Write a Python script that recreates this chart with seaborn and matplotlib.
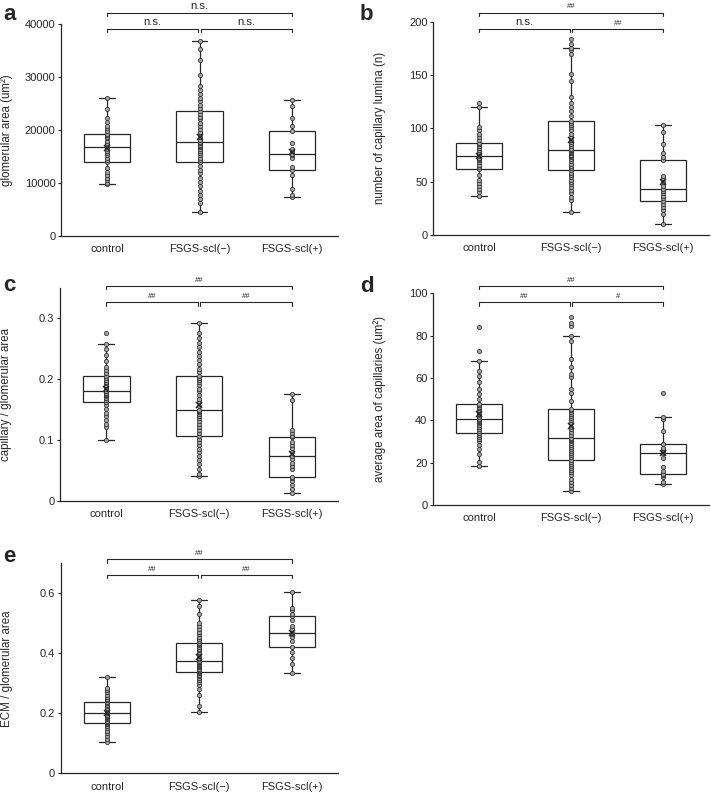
import numpy as np
import pandas as pd
import matplotlib
matplotlib.use("Agg")
import matplotlib.pyplot as plt
import seaborn as sns

# group names
groups = ["control", "FSGS-scl(\u2212)", "FSGS-scl(+)"]

# a: glomerular area (um2)
a_control = [9750, 10000, 10500, 11000, 11500, 12000, 12800, 13900, 14300, 14800,
             15200, 15600, 16000, 16400, 16800, 17200, 17600, 18000, 18400, 18700,
             19000, 19300, 19800, 20300, 20800, 21500, 22300, 24000, 26000]
a_scl_neg = [4500, 6200, 7000, 7700, 8500, 9500, 10200, 11000, 11800, 12500,
             13200, 13900, 14400, 14800, 15200, 15600, 16000, 16400, 16700, 17000,
             17200, 17500, 17700, 18200, 18700, 19200, 19700, 20200, 20800, 21400,
             22000, 22500, 23000, 23600, 24200, 24800, 25400, 26000, 26800, 27500,
             28300, 30300, 33200, 35300, 36800]
a_scl_pos = [7400, 7700, 8800, 11500, 12500, 13000, 14800, 15200, 15500, 16000,
             16500, 17500, 19800, 20800, 22300, 24600, 25700]

# b: number of capillary lumina (n)
b_control = [37, 40, 43, 46, 49, 52, 56, 62, 64, 66, 68, 70, 71, 72, 74, 76, 78,
             80, 82, 83, 85, 86, 89, 92, 95, 98, 101, 120, 124]
b_scl_neg = [22, 33, 36, 39, 42, 45, 48, 50, 52, 54, 56, 58, 60.6, 63, 65, 67, 69,
             71, 73, 74, 75, 77, 78, 79, 79.5, 81, 83, 85, 87, 89, 92, 95, 98, 101,
             103, 105, 107, 112, 116, 120, 124, 129, 144, 151, 170, 173, 175.6, 179, 184]
b_scl_pos = [10, 20, 23, 26, 29, 32.2, 35, 37, 39, 41, 42.8, 46, 50, 53, 55, 70,
             73, 77, 85, 97, 103]

# c: capillary / glomerular area
c_control = [0.0995, 0.121, 0.127, 0.133, 0.139, 0.145, 0.151, 0.157, 0.1626, 0.166,
             0.169, 0.172, 0.174, 0.176, 0.178, 0.18, 0.181, 0.184, 0.187, 0.19,
             0.193, 0.196, 0.199, 0.202, 0.2055, 0.21, 0.215, 0.22, 0.23, 0.24,
             0.25, 0.257, 0.276]
c_scl_neg = [0.0407, 0.045, 0.052, 0.06, 0.068, 0.074, 0.08, 0.086, 0.092, 0.097,
             0.102, 0.1066, 0.111, 0.116, 0.121, 0.126, 0.131, 0.136, 0.14, 0.143,
             0.146, 0.148, 0.15, 0.156, 0.162, 0.168, 0.174, 0.18, 0.184, 0.19,
             0.195, 0.199, 0.202, 0.2055, 0.211, 0.217, 0.224, 0.231, 0.238, 0.245,
             0.252, 0.259, 0.267, 0.276, 0.292]
c_scl_pos = [0.0137, 0.02, 0.026, 0.032, 0.037, 0.0396, 0.053, 0.058, 0.063, 0.069,
             0.0736, 0.08, 0.087, 0.092, 0.097, 0.105, 0.107, 0.112, 0.117, 0.166, 0.175]

# d: average area of capillaries (um2)
d_control = [18.3, 20.5, 24, 26.5, 28.5, 30, 31, 32, 33, 34, 35, 36, 37, 37.8, 38.5,
             39.2, 39.8, 40.2, 40.6, 41.5, 42.5, 43.2, 44, 45, 45.8, 46.5, 47.2, 47.7,
             50, 52.5, 55, 58, 61, 63.5, 67.9, 72.6, 84]
d_scl_neg = [6.5, 8, 9.5, 11, 12.5, 14, 15.5, 16.5, 17.5, 18.5, 19.5, 20.5, 21.3,
             22.5, 23.5, 24.5, 25.5, 26.5, 27.5, 28.5, 29.5, 30.2, 30.8, 31.3, 31.8,
             33, 34.5, 36, 37, 38.5, 40, 41, 42, 43, 44, 44.8, 45.4,
             49, 53, 55, 60.5, 62, 65, 69, 77.5, 80, 84.5, 86, 89]
d_scl_pos = [9.9, 11, 13, 14, 14.6, 16, 18, 22, 24.7, 25.5, 26, 27, 28.8, 35, 40.5,
             41.7, 52.8]

# e: ECM / glomerular area
e_control = [0.1056, 0.115, 0.124, 0.133, 0.142, 0.15, 0.157, 0.163, 0.168, 0.172,
             0.176, 0.18, 0.184, 0.188, 0.192, 0.196, 0.201, 0.205, 0.209, 0.213,
             0.218, 0.223, 0.228, 0.233, 0.238, 0.243, 0.249, 0.255, 0.262, 0.27,
             0.278, 0.285, 0.321]
e_scl_neg = [0.2056, 0.225, 0.26, 0.28, 0.295, 0.305, 0.312, 0.318, 0.324, 0.329,
             0.333, 0.337, 0.341, 0.345, 0.349, 0.353, 0.357, 0.361, 0.364, 0.367,
             0.37, 0.372, 0.374, 0.38, 0.386, 0.392, 0.398, 0.404, 0.41, 0.416,
             0.422, 0.428, 0.432, 0.4356, 0.44, 0.448, 0.456, 0.464, 0.472, 0.48,
             0.49, 0.5, 0.53, 0.557, 0.577]
e_scl_pos = [0.333, 0.365, 0.385, 0.405, 0.42, 0.44, 0.455, 0.465, 0.469, 0.48,
             0.49, 0.51, 0.526, 0.53, 0.545, 0.55, 0.606]

W, H = 711, 796
LC = "#262626"

sns.set_theme(style="ticks")
plt.rcParams["font.family"] = ["Liberation Sans", "DejaVu Sans"]

fig = plt.figure(figsize=(W / 100, H / 100), dpi=100)

# rect = (left, top, right, bottom) in pixels, br = bracket px above axes top
panels = [
    dict(letter="a", lpos=(3, 19.5), rect=(61, 24, 338, 236), ylim=40000,
         yticks=[0, 10000, 20000, 30000, 40000],
         ylabel="glomerular area (um\u00b2)",
         vals=(a_control, a_scl_neg, a_scl_pos), sig=("n.s.", "n.s.", "n.s."),
         br=(11.3, -5)),
    dict(letter="b", lpos=(360, 20), rect=(433, 21.7, 709, 235), ylim=200,
         yticks=[0, 50, 100, 150, 200],
         ylabel="number of capillary lumina (n)",
         vals=(b_control, b_scl_neg, b_scl_pos), sig=("##", "n.s.", "##"),
         br=(9, -7.3)),
    dict(letter="c", lpos=(3, 291), rect=(60, 287.7, 338, 501), ylim=0.35,
         yticks=[0, 0.1, 0.2, 0.3],
         ylabel="capillary / glomerular area",
         vals=(c_control, c_scl_neg, c_scl_pos), sig=("##", "##", "##"),
         br=(1.7, -14.6)),
    dict(letter="d", lpos=(360, 291.7), rect=(433, 293.3, 709, 505), ylim=100,
         yticks=[0, 20, 40, 60, 80, 100],
         ylabel="average area of capillaries (um\u00b2)",
         vals=(d_control, d_scl_neg, d_scl_pos), sig=("##", "##", "#"),
         br=(7.3, -9)),
    dict(letter="e", lpos=(3, 561.7), rect=(60.7, 563.3, 338, 773.3), ylim=0.7,
         yticks=[0, 0.2, 0.4, 0.6],
         ylabel="ECM / glomerular area",
         vals=(e_control, e_scl_neg, e_scl_pos), sig=("##", "##", "##"),
         br=(4, -11.7)),
]


def fmt(v):
    return "0" if v == 0 else f"{v:g}"


for p in panels:
    l, t, r, b = p["rect"]
    ax = fig.add_axes([l / W, 1 - b / H, (r - l) / W, (b - t) / H])
    vals = p["vals"]
    df = pd.DataFrame({
        "group": np.repeat(groups, [len(v) for v in vals]),
        "value": np.concatenate([np.asarray(v, dtype=float) for v in vals]),
    })
    sns.boxplot(data=df, x="group", y="value", order=groups, width=0.5,
                color="white", linecolor=LC, linewidth=0.9, showfliers=False,
                showmeans=True, capwidths=0.17,
                meanprops=dict(marker="x", markeredgecolor=LC, markersize=5,
                               markeredgewidth=1.1, zorder=6),
                ax=ax)
    sns.stripplot(data=df, x="group", y="value", order=groups, jitter=False,
                  size=3.0, color="#a6a6a6", edgecolor="#2a2a2a", linewidth=0.55,
                  ax=ax, zorder=5)
    ax.set_xlim(-0.5, 2.5)
    ax.set_ylim(0, p["ylim"])
    ax.set_yticks(p["yticks"])
    ax.set_yticklabels([fmt(v) for v in p["yticks"]])
    ax.set_xlabel("")
    ax.set_ylabel(p["ylabel"], fontsize=8.3, color=LC)
    ax.yaxis.set_label_coords(-0.172, 0.5)
    sns.despine(ax=ax)
    for s in ("left", "bottom"):
        ax.spines[s].set_linewidth(0.9)
        ax.spines[s].set_color(LC)
    ax.tick_params(axis="y", length=2, width=0.8, labelsize=8, pad=2, colors=LC)
    ax.tick_params(axis="x", length=0, labelsize=8, pad=6, colors=LC)

    # significance brackets
    hpx = b - t
    tr = ax.get_xaxis_transform()
    tick = 3.3 / hpx
    top_y = 1 + p["br"][0] / hpx
    low_y = 1 + p["br"][1] / hpx
    g = 0.016
    lines = [((0, 2), top_y), ((0, 1 - g), low_y), ((1 + g, 2), low_y)]
    for (x0, x1), y in lines:
        ax.plot([x0, x0, x1, x1], [y - tick, y, y, y - tick], color=LC, lw=0.8,
                transform=tr, clip_on=False)
    for ((x0, x1), y), s in zip(lines, p["sig"]):
        fs = 8.2 if s == "n.s." else 5.5
        off = 3.6 / hpx if s == "n.s." else 4.2 / hpx
        ax.text((x0 + x1) / 2, y + off, s, transform=tr, ha="center",
                va="baseline", fontsize=fs, color=LC, clip_on=False)

    fig.text(p["lpos"][0] / W, 1 - p["lpos"][1] / H, p["letter"],
             fontsize=16, fontweight="bold", ha="left", va="baseline")

fig.savefig("out.png", dpi=100)
